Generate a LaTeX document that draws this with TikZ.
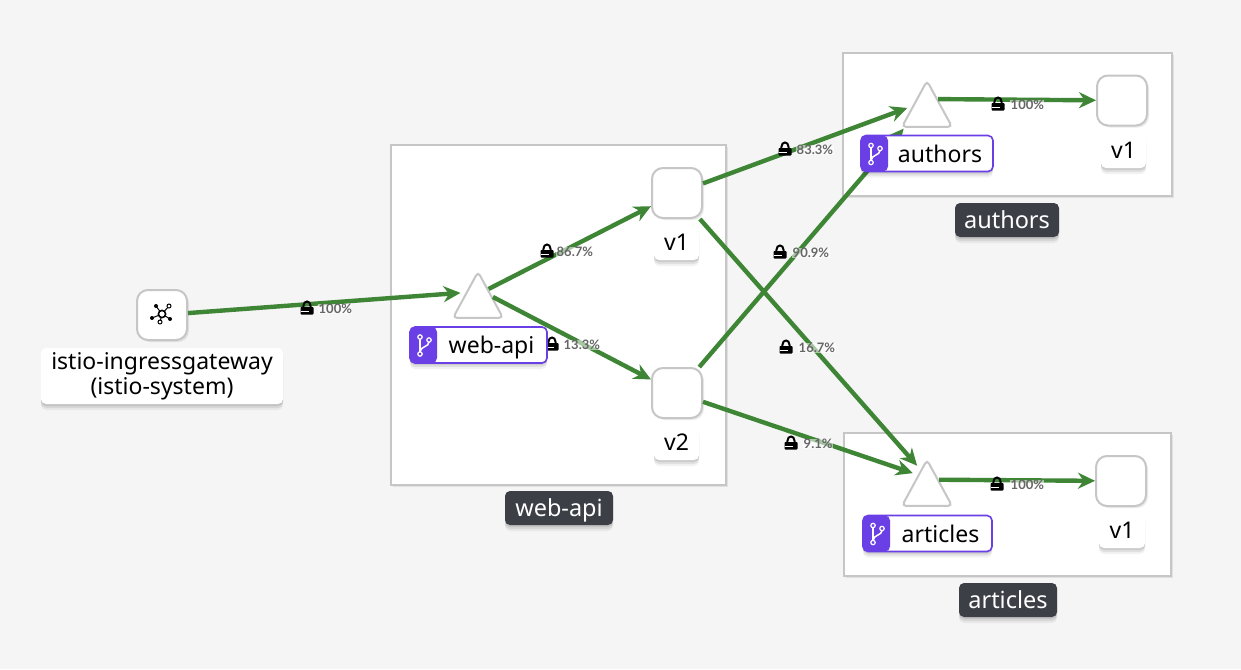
\documentclass[tikz,border=0pt]{standalone}
\usepackage{fontspec}
\setmainfont{Noto Sans}
\newfontfamily\pctfont{Lato}
\usetikzlibrary{shapes.geometric,shadows,arrows.meta}
\definecolor{pagegray}{HTML}{F5F5F5}
\definecolor{boxgray}{HTML}{C6C6C6}
\definecolor{edgegreen}{HTML}{3E8635}
\definecolor{tabpurple}{HTML}{6B3FE6}
\definecolor{darkbadge}{HTML}{3C3F46}
\tikzset{
  softshadow/.style={
    general shadow={shadow xshift=0pt,shadow yshift=-6pt,opacity=0.05,fill=black},
    general shadow={shadow xshift=0pt,shadow yshift=-4pt,opacity=0.07,fill=black},
    general shadow={shadow xshift=0pt,shadow yshift=-2pt,opacity=0.09,fill=black}},
  boxshadow/.style={general shadow={shadow xshift=2pt,shadow yshift=-2pt,opacity=0.08,fill=black}},
  groupbox/.style={draw=boxgray,line width=2pt,fill=white,inner sep=0pt,minimum width=#1,boxshadow},
  workload/.style={draw=boxgray,line width=2pt,fill=white,rounded corners=11pt,minimum size=50pt,inner sep=0pt,boxshadow},
  service/.style={isosceles triangle,isosceles triangle stretches,shape border rotate=90,draw=boxgray,line width=2pt,fill=white,rounded corners=4pt,minimum height=46pt,minimum width=50pt,inner sep=0pt},
  namelabel/.style={fill=white,rounded corners=5pt,inner sep=0pt,font=\fontsize{23}{25}\selectfont,align=center,softshadow},
  badge/.style={fill=darkbadge,text=white,rounded corners=5pt,inner sep=0pt,minimum height=34pt,text height=20pt,text depth=3pt,font=\fontsize{23.5}{25}\selectfont,softshadow},
  svclabel/.style={draw=tabpurple,line width=1.6pt,fill=white,rounded corners=5pt,inner sep=0pt,minimum height=36pt,text height=20pt,text depth=3pt,font=\fontsize{23}{25}\selectfont,softshadow,
    execute at begin node=\hspace*{26pt},
    path picture={\fill[tabpurple] (path picture bounding box.south west) rectangle ([xshift=27pt]path picture bounding box.north west);}},
  trafficedge/.style={draw=edgegreen,line width=4.4pt,-{Stealth[length=17pt,width=16pt,inset=5.5pt]}},
  pctlabel/.style={text=black!60,inner sep=0.5pt,anchor=west,fill=white,fill opacity=0.55,text opacity=1,font=\pctfont\bfseries\fontsize{13}{13}\selectfont},
  lockicon/.pic={
    \draw[black,line width=2pt] (-3.6,0) -- (-3.6,-2) .. controls (-3.6,-8) and (3.6,-8) .. (3.6,-2) -- (3.6,0);
    \fill[black,rounded corners=0.8pt] (-6.5,-1) rectangle (6.5,6.5);
    \draw[white,line width=0.7pt] (-6.5,3) -- (2,3);
  },
  branchicon/.pic={
    \draw[white,line width=1.5pt] (-3.5,-6) -- (-3.5,7);
    \draw[white,line width=1.5pt] (5.5,-3) .. controls (5.5,2) and (-3,1) .. (-3.5,7);
    \draw[white,line width=1.2pt,fill=tabpurple] (-3.5,-8) circle (2.2);
    \draw[white,line width=1.2pt,fill=tabpurple] (5.5,-5) circle (2.2);
    \draw[white,line width=1.2pt,fill=tabpurple] (-3.5,9) circle (2.2);
  },
  meshicon/.pic={
    \draw[black,line width=1pt] (-6,-8) -- (0,0) (7,-8) -- (0,0) (-10,4) -- (0,0) (-2,8) -- (0,0) (8,5) -- (0,0);
    \draw[black,line width=1.6pt,fill=white] (0,0) circle (3.6);
    \fill[black] (-6,-8) circle (2);
    \draw[black,line width=1pt,fill=white] (7,-8) circle (2);
    \fill[black] (-10,4) circle (2);
    \draw[black,line width=1pt,fill=white] (-2,8) circle (2);
    \fill[black] (8,5) circle (2);
  }
}
\begin{document}
\begin{tikzpicture}[x=1pt,y=-1pt]
\useasboundingbox (0,0) rectangle (1241,669);
\fill[pagegray] (0,0) rectangle (1241,669);

\node (webapigroup) [groupbox=335pt,minimum height=340pt] at (558.5,315) {};
\node (authorsgroup) [groupbox=329pt,minimum height=143pt] at (1007.5,124.5) {};
\node (articlesgroup) [groupbox=327pt,minimum height=143pt] at (1007.5,504.5) {};

\node (gateway) [workload] at (162,315) {};
\node (webapi) [service] at (478,303) {};
\node (webv1) [workload] at (677,193) {};
\node (webv2) [workload] at (677,393) {};
\node (authors) [service] at (927,112) {};
\node (authorsv1) [workload] at (1122,100.5) {};
\node (articles) [service] at (927,491) {};
\node (articlesv1) [workload] at (1121,481) {};

\draw[trafficedge,shorten >=5pt] (gateway) -- (webapi.140);
\draw[trafficedge] (webapi.53) -- (webv1);
\draw[trafficedge] (webapi.22) -- (webv2);
\draw[trafficedge,shorten >=5pt] (webv1) -- (authors.159);
\draw[trafficedge,shorten >=1pt] (webv2) -- (authors.215);
\draw[trafficedge,shorten >=5pt] (webv1) -- (articles.107);
\draw[trafficedge,shorten >=5pt] (webv2) -- (articles.120);
\draw[trafficedge] (authors.49) -- (authorsv1);
\draw[trafficedge] (articles.43) -- (articlesv1);

\node (gatewaypct) [pctlabel] at (318,309) {100\%};
\pic at (307,308) {lockicon};
\node (webv1pct) [pctlabel] at (556,252) {86.7\%};
\pic at (547,251) {lockicon};
\node (webv2pct) [pctlabel] at (563,345) {13.3\%};
\pic at (552,344) {lockicon};
\node (authorspct) [pctlabel] at (796,150) {83.3\%};
\pic at (785,149) {lockicon};
\node (crosspct) [pctlabel] at (792,253) {90.9\%};
\pic at (780,252) {lockicon};
\node (downpct) [pctlabel] at (798,348) {16.7\%};
\pic at (786,347) {lockicon};
\node (articlespct) [pctlabel] at (803,444) {9.1\%};
\pic at (791,443) {lockicon};
\node (authorsv1pct) [pctlabel] at (1010,105) {100\%};
\pic at (998,104) {lockicon};
\node (articlesv1pct) [pctlabel] at (1010,485) {100\%};
\pic at (997,484) {lockicon};

\pic at (162,314) {meshicon};

\node (gatewayname) [namelabel,minimum width=242pt,minimum height=56pt] at (162,376) {istio-ingressgateway\\(istio-system)};
\node (webv1name) [namelabel,minimum width=45pt,minimum height=35pt] at (676.5,242.5) {v1};
\node (webv2name) [namelabel,minimum width=45pt,minimum height=35pt] at (676.5,442.5) {v2};
\node (authorsv1name) [namelabel,minimum width=45pt,minimum height=35pt] at (1123.5,150.5) {v1};
\node (articlesv1name) [namelabel,minimum width=46pt,minimum height=35pt] at (1122,530.5) {v1};

\node (webapitag) [svclabel,minimum width=137pt] at (478.5,345) {web-api};
\pic at (423.5,345) {branchicon};
\node (authorstag) [svclabel,minimum width=132pt] at (927,153.5) {authors};
\pic at (874.5,153.5) {branchicon};
\node (articlestag) [svclabel,minimum width=129pt] at (927.5,533.5) {articles};
\pic at (876.5,533.5) {branchicon};

\node (webapibadge) [badge,minimum width=108pt] at (559,508) {web-api};
\node (authorsbadge) [badge,minimum width=104pt] at (1007,220) {authors};
\node (articlesbadge) [badge,minimum width=98pt] at (1008,600) {articles};
\end{tikzpicture}
\end{document}
